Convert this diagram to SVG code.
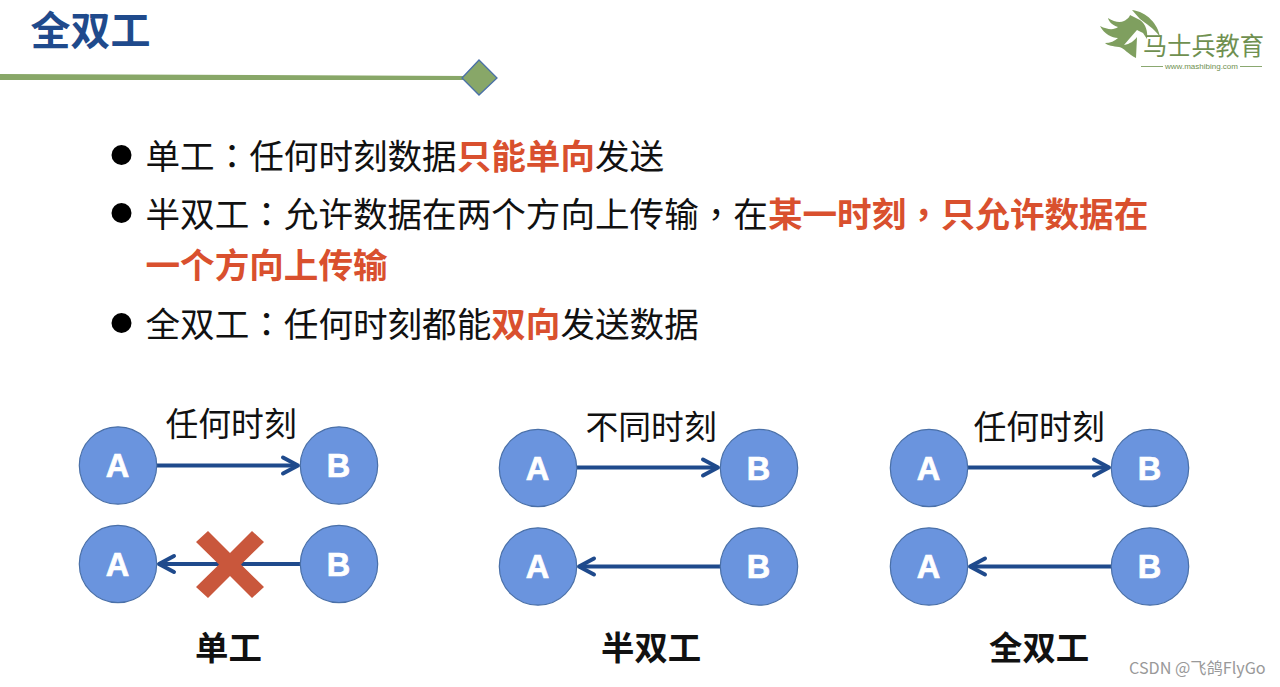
<svg xmlns="http://www.w3.org/2000/svg" width="1280" height="687" viewBox="0 0 1280 687">
<defs>
<style>
text{font-family:"Noto Sans CJK SC","Noto Sans",sans-serif}
.title{font-size:40px;font-weight:700;fill:#1f4a8c}
.body{font-size:34.6px;fill:#111}
.hl{font-weight:700;fill:#d9502e}
.p{font-family:"Noto Sans CJK TC",sans-serif}
.cap{font-size:32.8px;fill:#111}
.capb{font-size:33.4px;font-weight:700;fill:#111}
.circle{fill:#6a94de;stroke:#4a70a8;stroke-width:1.2}
.letter{font-family:"Liberation Sans",Arial,sans-serif;font-size:32.5px;font-weight:700;fill:#fff;stroke:#fff;stroke-width:.7;text-anchor:middle}
.conn{fill:none;stroke:#1f4a8c;stroke-width:4}
.head{fill:none;stroke:#1f4a8c;stroke-width:4;stroke-linecap:round;stroke-linejoin:round}
.dot{fill:#000}
.logo{fill:#7f9f5f}
</style>
<g id="nodeA"><circle class="circle" r="38.7"/><text class="letter" x="-.5" y="11.500">A</text></g>
<g id="nodeB"><circle class="circle" r="38.7"/><text class="letter" x="-.5" y="11.500">B</text></g>
</defs>
<rect width="1280" height="687" fill="#fff"/>
<g id="header">
<text class="title" x="30.500" y="45">全双工</text>
<polygon points="0,74 470,76 470,80 0,80" fill="#88a768"/>
<polygon points="479,60 497,78 479,95 462,78" fill="#88a768" stroke="#4a70a8" stroke-width="1.3"/>
</g>
<g id="logo">
<path class="logo" d="M1100 26C1108 30 1114 30 1118 27C1112 25 1109 22 1108 18C1114 22 1120 23 1124 21C1128 19 1130 16 1130 15L1140 20C1146 24 1148 32 1147 39L1143 33L1137 30L1130 38L1124 45C1130 44 1134 41 1137 37L1136 58C1128 54 1124 48 1119 47C1113 46 1108 46 1105 43C1110 43 1115 41 1118 38C1112 38 1104 34 1100 26Z"/>
<path class="logo" d="M1132 10C1147 12 1158 24 1160 37C1153 27 1146 24 1140 19Z"/>
<text x="1143" y="55" font-size="25px" fill="#6f9050" textLength="121" lengthAdjust="spacingAndGlyphs">马士兵教育</text>
<path d="M1141 66.500H1163M1240 66.500H1262" stroke="#8aa870" stroke-width="1" fill="none"/>
<text x="1165" y="69" style="font-family:'Liberation Sans',sans-serif" font-size="7.500px" fill="#6f9050" textLength="73" lengthAdjust="spacingAndGlyphs">www.mashibing.com</text>
</g>
<g id="bullets">
<circle class="dot" cx="121.500" cy="155" r="10"/>
<circle class="dot" cx="121.500" cy="213" r="10"/>
<circle class="dot" cx="121.500" cy="323" r="10"/>
<text class="body" x="145.500" y="169">单工<tspan class="p">：</tspan>任何时刻数据<tspan class="hl">只能单向</tspan>发送</text>
<text class="body" x="145.500" y="227">半双工<tspan class="p">：</tspan>允许数据在两个方向上传输<tspan class="p">，</tspan>在<tspan class="hl">某一时刻<tspan class="p">，</tspan>只允许数据在</tspan></text>
<text class="hl" style="font-size:34.600px" x="145.500" y="278">一个方向上传输</text>
<text class="body" x="145.500" y="337">全双工<tspan class="p">：</tspan>任何时刻都能<tspan class="hl">双向</tspan>发送数据</text>
</g>
<g id="connectors">
<path class="conn" d="M157 465.500H297"/><path class="head" d="M283 457.500L298 465.500L283 473.500"/>
<path class="conn" d="M300 564H159"/><path class="head" d="M174 556L159 564L174 572"/>
<path class="conn" d="M577 467.500H717"/><path class="head" d="M703 459.500L718 467.500L703 475.500"/>
<path class="conn" d="M720 566.500H580"/><path class="head" d="M594 558.500L579 566.500L594 574.500"/>
<path class="conn" d="M968 467.500H1108"/><path class="head" d="M1094 459.500L1109 467.500L1094 475.500"/>
<path class="conn" d="M1111 566.500H971"/><path class="head" d="M985 558.500L970 566.500L985 574.500"/>
</g>
<g id="cross"><path d="M208 531L230 553L252 531L264 542L241 564.500L264 587L252 598L230 576L208 598L196 587L219 564.500L196 542Z" fill="#c9573c"/></g>
<g id="simplex">
<use id="a1" href="#nodeA" x="118" y="465.500"/><use id="b1" href="#nodeB" x="339" y="465.500"/>
<use id="a2" href="#nodeA" x="118" y="564"/><use id="b2" href="#nodeB" x="339" y="564"/>
<text class="cap" x="165.500" y="436">任何时刻</text>
<text class="capb" x="195" y="660">单工</text>
</g>
<g id="half">
<use id="a3" href="#nodeA" x="538" y="468"/><use id="b3" href="#nodeB" x="759" y="468"/>
<use id="a4" href="#nodeA" x="538" y="566.500"/><use id="b4" href="#nodeB" x="759" y="566.500"/>
<text class="cap" x="585.500" y="439">不同时刻</text>
<text class="capb" x="601" y="660">半双工</text>
</g>
<g id="full">
<use id="a5" href="#nodeA" x="929" y="468"/><use id="b5" href="#nodeB" x="1150" y="468"/>
<use id="a6" href="#nodeA" x="929" y="566.500"/><use id="b6" href="#nodeB" x="1150" y="566.500"/>
<text class="cap" x="973.500" y="439">任何时刻</text>
<text class="capb" x="989" y="660">全双工</text>
</g>
<text id="watermark" x="1129" y="674" font-size="16.200px" fill="#999">CSDN @飞鸽FlyGo</text>
</svg>
